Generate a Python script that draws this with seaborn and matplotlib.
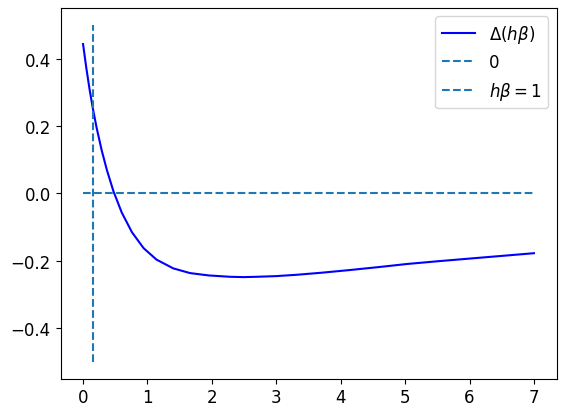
import matplotlib
matplotlib.use("Agg")
import matplotlib.pyplot as plt
import pandas as pd
import seaborn as sns

# values
h_beta = [0.0, 0.05, 0.10, 0.15, 0.21, 0.29, 0.37, 0.47, 0.60, 0.76, 0.94,
          1.14, 1.40, 1.66, 1.95, 2.28, 2.49, 2.70, 3.00, 3.32, 3.70, 4.14,
          4.60, 5.03, 5.50, 6.06, 6.50, 7.0]
delta = [0.443, 0.373, 0.310, 0.254, 0.195, 0.127, 0.069, 0.007, -0.057,
         -0.116, -0.163, -0.197, -0.223, -0.237, -0.244, -0.248, -0.249,
         -0.248, -0.246, -0.242, -0.236, -0.228, -0.219, -0.210, -0.202,
         -0.193, -0.186, -0.178]

zero_x = [0.0, 7.0]
zero_y = [0.0, 0.0]
unit_x = [0.15, 0.15]
unit_y = [-0.5, 0.5]

plt.rcParams["font.size"] = 12

fig = plt.figure(figsize=(5.66, 4.14), dpi=100)
ax = fig.add_axes([60.5 / 566, 1 - 379.5 / 414, 496 / 566, 370.5 / 414])

df = pd.DataFrame({"x": h_beta, "y": delta})
sns.lineplot(data=df, x="x", y="y", color="blue", label=r"$\Delta(h\beta)$", ax=ax)
ax.plot(zero_x, zero_y, "--", color="tab:blue", label="0")
ax.plot(unit_x, unit_y, "--", color="tab:blue", label=r"$h\beta=1$")

ax.set_xlabel("")
ax.set_ylabel("")
ax.set_xticks(range(0, 8))
ax.set_yticks([-0.4, -0.2, 0.0, 0.2, 0.4])
ax.legend(loc="upper right")

fig.savefig("out.png", dpi=100)
